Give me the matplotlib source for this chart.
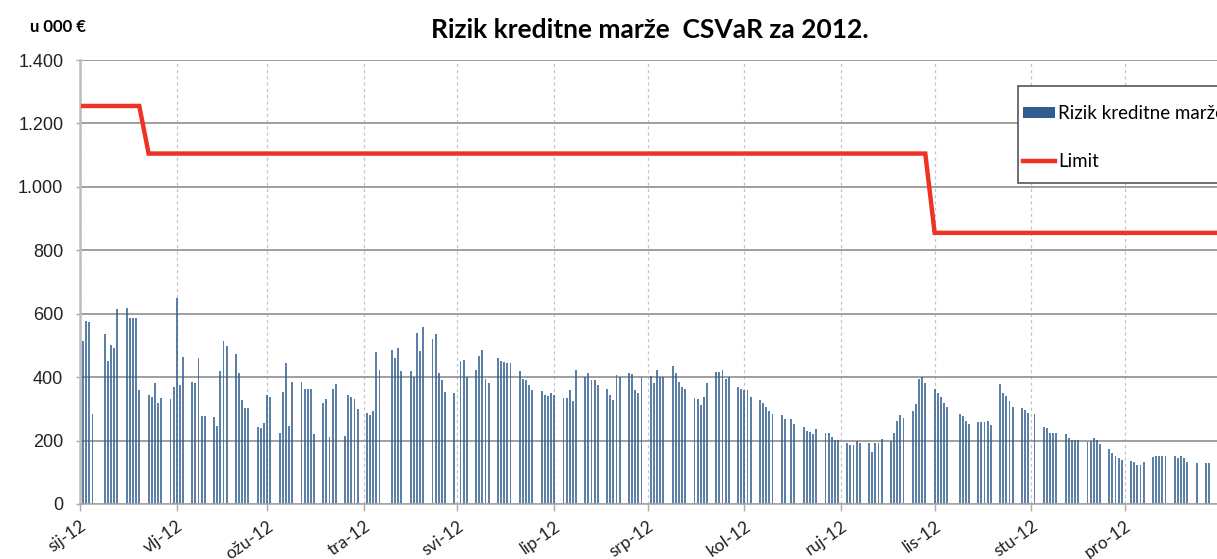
import numpy as np
import pandas as pd
import matplotlib
matplotlib.use("Agg")
import matplotlib.pyplot as plt
from matplotlib.ticker import FuncFormatter, FixedLocator
from matplotlib.patches import Patch, Rectangle
from matplotlib.lines import Line2D

# daily values (business days, u 000 EUR), month by month
jan = [513, 578, 575, 283,
       535, 450, 500, 492, 614,
       617, 588, 585, 585, 360,
       343, 336, 380, 317, 333,
       330, 370]
feb = [648, 376, 462,
       386, 380, 461, 279, 279,
       275, 247, 418, 514, 499,
       472, 412, 328, 304, 304,
       244, 241, 254]
mar = [343, 336,
       225, 352, 445, 247, 386,
       386, 364, 364, 364, 220,
       320, 331, 212, 362, 378,
       214, 343, 336, 330, 301]
apr = [286, 280, 293, 480, 422,
       485, 460, 491, 418,
       418, 401, 538, 483, 559,
       519, 536, 412, 391, 354,
       349]
may = [452, 454, 401,
       424, 466, 487, 393, 380,
       459, 452, 448, 445, 445,
       419, 393, 391, 375, 359,
       356, 343, 340, 349]
jun = [343,
       333, 333, 359, 326, 424,
       401, 412, 391, 391, 375,
       364, 343, 328, 407, 401,
       412, 410, 359, 351, 400]
jul = [405, 381, 424, 400, 400,
       435, 412, 386, 368, 364,
       333, 330, 313, 338, 383,
       417, 417, 422, 393, 400,
       368, 364]
aug = [359, 359, 338,
       328, 317, 307, 294, 284,
       281, 267, 267, 252,
       242, 230, 228, 221, 235,
       223, 225, 212, 202, 202]
sep = [192, 186, 186, 200, 192,
       192, 165, 192, 192, 204,
       200, 223, 263, 281, 270,
       293, 315, 393, 400, 383]
oct_ = [364, 351, 336, 319, 305,
        283, 278, 263, 252,
        257, 260, 257, 262, 249,
        378, 349, 340, 326, 307,
        302, 297, 287]
nov = [283,
       244, 239, 225, 225, 225,
       220, 207, 202, 202, 202,
       194, 200, 207, 202, 190,
       172, 160, 151, 144, 139]
dec = [137, 131, 123, 123, 134,
       147, 150, 151, 151, 151,
       151, 144, 150, 144, 134,
       128,
       128, 128,
       128]

holidays = ['2012-01-06', '2012-04-09', '2012-05-01', '2012-08-15',
            '2012-10-08', '2012-11-01', '2012-12-25', '2012-12-26']

limit_levels = [1255, 1105, 855]
limit_changes = ['2012-01-23', '2012-10-01']

month_labels = ['sij-12', 'vlj-12', 'ožu-12', 'tra-12', 'svi-12', 'lip-12',
                'srp-12', 'kol-12', 'ruj-12', 'lis-12', 'stu-12', 'pro-12']

values = jan + feb + mar + apr + may + jun + jul + aug + sep + oct_ + nov + dec

dates = pd.bdate_range('2012-01-02', '2012-12-31')
dates = dates[~dates.isin(pd.to_datetime(holidays))]
assert len(dates) == len(values), (len(dates), len(values))

start = pd.Timestamp('2012-01-01')
x = np.array((dates - start).days, dtype=float)

limit = np.where(dates < pd.Timestamp(limit_changes[0]), limit_levels[0],
                 np.where(dates < pd.Timestamp(limit_changes[1]), limit_levels[1], limit_levels[2]))

month_pos = [(pd.Timestamp(2012, m, 1) - start).days for m in range(1, 13)]

W, H = 1217, 559
fig = plt.figure(figsize=(W / 100, H / 100), dpi=100)
ax = fig.add_axes([80 / W, 1 - 504 / H, 1141.6 / W, 444 / H])

bar_color = '#2f5d8f'
red = '#ee3326'
ax.bar(x, values, width=0.6, color=bar_color, alpha=0.78, linewidth=0, zorder=2)
ax.plot(x, limit, color=red, lw=3.2, zorder=3, solid_joinstyle='miter')

ax.set_xlim(0, 366)
ax.set_ylim(0, 1400)
ax.yaxis.set_major_locator(FixedLocator(range(0, 1401, 200)))
ax.yaxis.set_major_formatter(FuncFormatter(lambda v, p: f"{v:,.0f}".replace(",", ".")))
ax.set_xticks(month_pos)
ax.set_xticklabels(month_labels, rotation=35, ha='right', va='top',
                   rotation_mode='anchor', fontfamily='Lato', fontsize=12.5, color='#222222')

for lab in ax.get_yticklabels():
    lab.set_fontfamily('Liberation Sans')
    lab.set_fontsize(13)
    lab.set_color('#222222')

ax.grid(axis='y', color='#8f8f8f', lw=1.2, zorder=0)
ax.grid(axis='x', color='#c4c4c4', lw=0.9, ls=(0, (2.5, 2.5)), zorder=0)
ax.tick_params(axis='y', length=3, width=1, color='#aaaaaa', pad=9)
ax.tick_params(axis='x', length=5, width=1, color='#aaaaaa', pad=5)

for s in ['top', 'right']:
    ax.spines[s].set_visible(False)
ax.spines['left'].set_color('#bdbdbd')
ax.spines['left'].set_linewidth(1.8)
ax.spines['bottom'].set_color('#a8a8a8')
ax.spines['bottom'].set_linewidth(1.2)

fig.text(650 / W, 1 - 30 / H, 'Rizik kreditne marže  CSVaR za 2012.',
         ha='center', va='center', fontfamily='Lato', fontweight='bold', fontsize=19)
fig.text(30 / W, 1 - 27 / H, 'u 000 €', ha='left', va='center',
         fontfamily='Lato', fontweight='bold', fontsize=12)

# legend frame (runs past the right edge, as in the source)
fig.patches.append(Rectangle((1018 / W, 1 - 183 / H), 300 / W, 97 / H,
                             transform=fig.transFigure, facecolor='white',
                             edgecolor='#555555', lw=1.2, zorder=5))
handles = [Patch(facecolor=bar_color, edgecolor='none'),
           Line2D([], [], color=red, lw=3.2)]
leg = fig.legend(handles, ['Rizik kreditne marže', 'Limit'],
                 loc='upper left', bbox_to_anchor=(1023 / W, 1 - 105 / H),
                 frameon=False, borderpad=0, borderaxespad=0,
                 labelspacing=1.67, handlelength=1.7,
                 handleheight=0.55, handletextpad=0.16,
                 prop={'family': 'Lato', 'size': 13.5})
leg.set_zorder(6)

fig.savefig('out.png', dpi=100)
